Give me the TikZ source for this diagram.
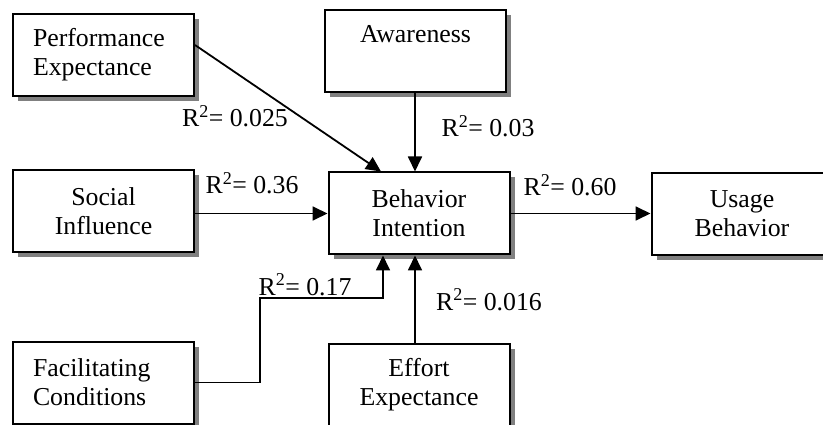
\documentclass[tikz,border=0pt]{standalone}
\usepackage{fontspec}
\setmainfont{Liberation Serif}
\usetikzlibrary{shadows,arrows.meta}
\begin{document}
\begin{tikzpicture}[x=1pt,y=-1pt,
  box/.style={draw, line width=2pt, fill=white, text width=141pt, inner xsep=20pt, inner ysep=0pt,
    minimum height=82pt, font=\fontsize{25.8}{29}\selectfont,
    drop shadow={shadow xshift=5pt, shadow yshift=-5pt, fill=black!50, opacity=1}},
  cbox/.style={box, align=center},
  lbox/.style={box, align=left},
  conn/.style={line width=1.8pt, -{Triangle[length=15pt,width=14pt]}},
  lab/.style={anchor=base, inner sep=0pt, font=\fontsize{25.8}{29}\selectfont}]
\useasboundingbox (0,0) rectangle (823,425);
\clip (0,0) rectangle (823,425);

\node[lbox] (PE) at (103.5,55) {Performance\\Expectance};
\node[cbox] (AW) at (415.5,51.5) {Awareness\\\phantom{Expectance}};
\node[cbox] (SI) at (103.5,211.5) {Social\\Influence};
\node[cbox] (BI) at (419,213.5) {Behavior\\Intention};
\node[cbox] (UB) at (742,214) {Usage\\Behavior};
\node[lbox] (FC) at (103.5,382.5) {Facilitating\\Conditions};
\node[cbox] (EE) at (419,385) {Effort\\Expectance};

\coordinate (fc1) at (260,298);

\draw[conn] ([yshift=10pt]PE.east) -- ([xshift=-38pt]BI.north);
\draw[conn] ([xshift=-0.5pt]AW.south) -- ([xshift=-4pt]BI.north);
\draw[conn] (SI.east |- BI.west) -- (BI.west);
\draw[conn] (BI.east) -- (UB.west |- BI.east);
\draw[conn] (FC.east) -| (fc1) -| ([xshift=-36pt]BI.south);
\draw[conn] ([xshift=-4pt]EE.north) -- ([xshift=-4pt]BI.south);

\node[lab] (l1) at (235,127) {R\textsuperscript{2}= 0.025};
\node[lab] (l2) at (252,194) {R\textsuperscript{2}= 0.36};
\node[lab] (l3) at (488,137) {R\textsuperscript{2}= 0.03};
\node[lab] (l4) at (570,196) {R\textsuperscript{2}= 0.60};
\node[lab] (l5) at (305,295) {R\textsuperscript{2}= 0.17};
\node[lab] (l6) at (489,310) {R\textsuperscript{2}= 0.016};
\end{tikzpicture}
\end{document}
